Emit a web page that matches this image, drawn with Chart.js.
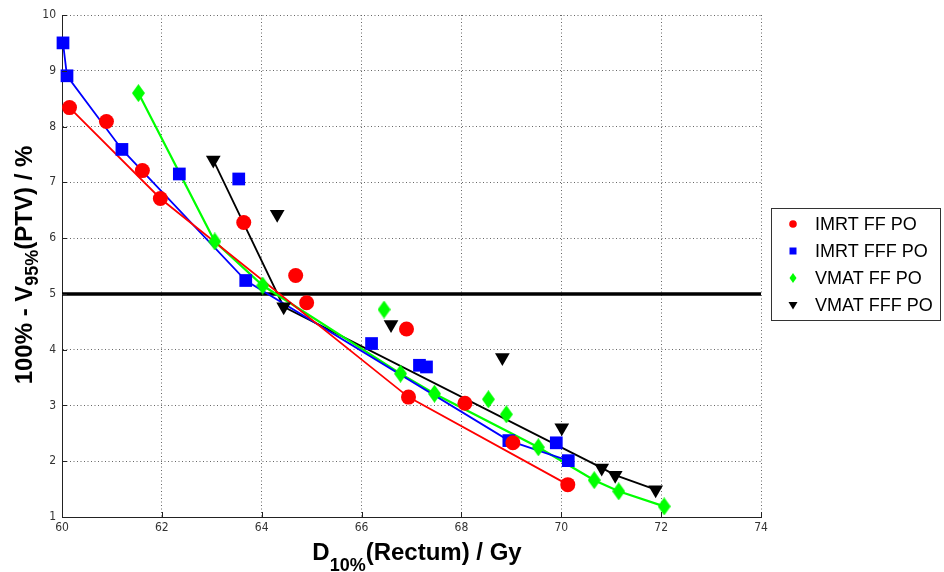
<!DOCTYPE html>
<html>
<head>
<meta charset="utf-8">
<script src="https://cdn.jsdelivr.net/npm/chart.js@4/dist/chart.umd.min.js"></script>
<style>
  body { margin: 0; background: #fff; }
</style>
</head>
<body>
<canvas id="paretoChart" width="944" height="572"></canvas>
<script>
// series names + colours
const seriesNames = ['IMRT FF PO', 'IMRT FFF PO', 'VMAT FF PO', 'VMAT FFF PO'];
const seriesColors = ['#ff0000', '#0000ff', '#00ff00', '#000000'];

// D10%(Rectum) / Gy  and  100% - V95%(PTV) / %
const imrtFfDose = [60.15, 60.89, 61.61, 61.97, 63.64, 64.68, 64.90, 66.90, 66.94, 68.07, 69.03, 70.13];
const imrtFfPtv  = [8.34, 8.09, 7.21, 6.71, 6.28, 5.33, 4.84, 4.37, 3.15, 3.04, 2.33, 1.58];
const imrtFfFront = [0, 3, 8, 11];

const imrtFffDose = [60.02, 60.10, 61.20, 62.35, 63.54, 63.68, 66.20, 67.16, 67.30, 68.95, 69.90, 70.14];
const imrtFffPtv  = [9.50, 8.91, 7.59, 7.15, 7.06, 5.24, 4.11, 3.72, 3.69, 2.37, 2.33, 2.01];
const imrtFffFront = [0, 1, 2, 5, 9, 11];

const vmatFfDose = [61.53, 63.06, 64.02, 66.45, 66.78, 67.46, 68.54, 68.90, 69.54, 70.66, 71.15, 72.06];
const vmatFfPtv  = [8.60, 5.94, 5.15, 4.72, 3.57, 3.21, 3.11, 2.84, 2.25, 1.66, 1.46, 1.19];
const vmatFfFront = [0, 1, 2, 4, 5, 8, 9, 10, 11];

const vmatFffDose = [63.03, 64.31, 64.44, 66.59, 68.82, 70.01, 70.81, 71.08, 71.89];
const vmatFffPtv  = [7.40, 6.43, 4.77, 4.45, 3.86, 2.60, 1.88, 1.75, 1.49];
const vmatFffFront = [0, 2, 6, 7, 8];

const thresholdPtv = 5;
const xMin = 60, xMax = 74, xStep = 2;
const yMin = 1, yMax = 10, yStep = 1;

function pts(xs, ys) {
    return xs.map((x, i) => ({x: x, y: ys[i]}));
}
function frontPts(xs, ys, idx) {
    return idx.map(i => ({x: xs[i], y: ys[i]}));
}
function diamond(w, h, color) {
    let c = document.createElement('canvas');
    c.width = w; c.height = h;
    let g = c.getContext('2d');
    g.fillStyle = color;
    g.beginPath();
    g.moveTo(w / 2, 0); g.lineTo(w, h / 2); g.lineTo(w / 2, h); g.lineTo(0, h / 2);
    g.closePath();
    g.fill();
    return c;
}

const TXT = "'Liberation Sans', Arial, sans-serif";
const TICKFONT = "'Liberation Sans Narrow', 'DejaVu Sans Condensed', Arial, sans-serif";

// titles, legend and inward tick marks
const decor = {
    id: 'decor',
    afterDraw(chart) {
        const ctx = chart.ctx;
        const xs = chart.scales.x, ys = chart.scales.y;
        const area = chart.chartArea;
        ctx.save();

        // small inward ticks
        ctx.strokeStyle = '#222';
        ctx.lineWidth = 1;
        ctx.beginPath();
        for (let v = xMin; v <= xMax; v += xStep) {
            let px = Math.round(xs.getPixelForValue(v)) + 0.5;
            ctx.moveTo(px, area.bottom); ctx.lineTo(px, area.bottom - 5);
        }
        for (let v = yMin; v <= yMax; v += yStep) {
            let py = Math.round(ys.getPixelForValue(v)) + 0.5;
            ctx.moveTo(area.left, py); ctx.lineTo(area.left + 5, py);
        }
        ctx.stroke();

        // x title with subscript
        ctx.fillStyle = '#000';
        ctx.textBaseline = 'alphabetic';
        ctx.textAlign = 'left';
        let big = 'bold 24px ' + TXT, small = 'bold 18px ' + TXT;
        ctx.font = big;
        let a = 'D', c = '(Rectum) / Gy';
        let wa = ctx.measureText(a).width, wc = ctx.measureText(c).width;
        ctx.font = small;
        let b = '10%', wb = ctx.measureText(b).width;
        let x0 = 417 - (wa + wb + wc) / 2;
        ctx.font = big; ctx.fillText(a, x0, 560);
        ctx.font = small; ctx.fillText(b, x0 + wa, 571);
        ctx.font = big; ctx.fillText(c, x0 + wa + wb, 560);

        // y title, rotated
        ctx.save();
        ctx.translate(32, 265);
        ctx.rotate(-Math.PI / 2);
        ctx.font = big;
        a = '100% - V'; c = '(PTV) / %';
        wa = ctx.measureText(a).width; wc = ctx.measureText(c).width;
        ctx.font = small;
        b = '95%'; wb = ctx.measureText(b).width;
        x0 = -(wa + wb + wc) / 2;
        ctx.font = big; ctx.fillText(a, x0, 0);
        ctx.font = small; ctx.fillText(b, x0 + wa, 6);
        ctx.font = big; ctx.fillText(c, x0 + wa + wb, 0);
        ctx.restore();

        // legend
        ctx.fillStyle = '#fff';
        ctx.fillRect(771.5, 208.5, 169, 112);
        ctx.strokeStyle = '#333';
        ctx.lineWidth = 1;
        ctx.strokeRect(771.5, 208.5, 169, 112);
        ctx.font = '18px ' + TXT;
        ctx.textBaseline = 'middle';
        seriesNames.forEach((name, i) => {
            let y = 224 + i * 27, mx = 793;
            ctx.fillStyle = seriesColors[i];
            ctx.beginPath();
            if (i === 0) {
                ctx.arc(mx, y, 3.8, 0, Math.PI * 2);
            } else if (i === 1) {
                ctx.rect(mx - 3.5, y - 3.5, 7, 7);
            } else if (i === 2) {
                ctx.moveTo(mx, y - 5); ctx.lineTo(mx + 3.5, y); ctx.lineTo(mx, y + 5); ctx.lineTo(mx - 3.5, y);
            } else {
                ctx.moveTo(mx - 4.5, y - 3); ctx.lineTo(mx + 4.5, y - 3); ctx.lineTo(mx, y + 4.5);
            }
            ctx.closePath();
            ctx.fill();
            ctx.fillStyle = '#000';
            ctx.fillText(name, 815, y + 1);
        });
        ctx.restore();
    }
};

const markerSets = [
    {label: seriesNames[0], data: pts(imrtFfDose, imrtFfPtv), pointStyle: 'circle', pointRadius: 7.5},
    {label: seriesNames[1], data: pts(imrtFffDose, imrtFffPtv), pointStyle: 'rect', pointRadius: 9},
    {label: seriesNames[2], data: pts(vmatFfDose, vmatFfPtv), pointStyle: diamond(13, 18, seriesColors[2]), pointRadius: 8},
    {label: seriesNames[3], data: pts(vmatFffDose, vmatFffPtv), pointStyle: 'triangle', pointRadius: 8.5, rotation: 180}
].map((d, i) => Object.assign(d, {
    backgroundColor: seriesColors[i],
    borderColor: seriesColors[i],
    borderWidth: 0,
    showLine: false,
    clip: false
}));

const frontSets = [
    frontPts(imrtFfDose, imrtFfPtv, imrtFfFront),
    frontPts(imrtFffDose, imrtFffPtv, imrtFffFront),
    frontPts(vmatFfDose, vmatFfPtv, vmatFfFront),
    frontPts(vmatFffDose, vmatFffPtv, vmatFffFront)
].map((data, i) => ({
    label: seriesNames[i] + ' front',
    data: data,
    showLine: true,
    pointRadius: 0,
    borderColor: seriesColors[i],
    borderWidth: i === 2 ? 2.2 : 1.8,
    tension: 0,
    fill: false
}));

const thresholdSet = {
    label: 'threshold',
    data: [{x: xMin, y: thresholdPtv}, {x: xMax, y: thresholdPtv}],
    showLine: true,
    pointRadius: 0,
    borderColor: '#000',
    borderWidth: 3.5
};

new Chart('paretoChart', {
    type: 'scatter',
    data: {datasets: [...markerSets, ...frontSets, thresholdSet]},
    options: {
        responsive: false,
        devicePixelRatio: 1,
        animation: false,
        events: [],
        layout: {padding: {left: 0, top: 15, right: 183, bottom: 0}},
        plugins: {legend: {display: false}, tooltip: {enabled: false}},
        scales: {
            x: {
                type: 'linear', min: xMin, max: xMax,
                afterFit: s => { s.height = 55; },
                ticks: {stepSize: xStep, autoSkip: false, padding: 4, color: '#333',
                        font: {family: TICKFONT, size: 12}},
                grid: {color: '#666', drawTicks: false, lineWidth: 1},
                border: {display: true, color: '#222', width: 1, dash: [1, 2.5]}
            },
            y: {
                type: 'linear', min: yMin, max: yMax,
                afterFit: s => { s.width = 62; },
                ticks: {stepSize: yStep, autoSkip: false, padding: 6, color: '#333',
                        font: {family: TICKFONT, size: 12}},
                grid: {color: '#666', drawTicks: false, lineWidth: 1},
                border: {display: true, color: '#222', width: 1, dash: [1, 2.5]}
            }
        }
    },
    plugins: [decor]
});
</script>
</body>
</html>
